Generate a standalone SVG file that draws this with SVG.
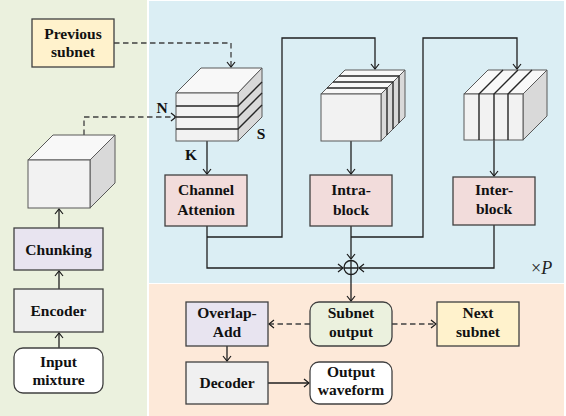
<svg xmlns="http://www.w3.org/2000/svg" width="566" height="416" viewBox="0 0 566 416">
<defs>
<marker id="arr" viewBox="-1 -5 7 10" refX="5" refY="0" markerWidth="7" markerHeight="10" markerUnits="userSpaceOnUse" orient="auto">
<path d="M0,-4 L5,0 L0,4" fill="none" stroke="#1a1a1a" stroke-width="1.2"/>
</marker>
<style>
.bx{stroke:#404040;stroke-width:1.3}
.t{font-family:"Liberation Serif","Times New Roman",serif;font-weight:bold;font-size:15.5px;fill:#111;text-anchor:middle}
.c{fill:none;stroke:#1f1f1f;stroke-width:1.3}
.d{fill:none;stroke:#404040;stroke-width:1.3;stroke-dasharray:5.5,3.5}
.fr{fill:#f2f2f2;stroke:#595959;stroke-width:1}
.tp{fill:#f8f8f8;stroke:#595959;stroke-width:1}
.sd{fill:#d9d9d9;stroke:#595959;stroke-width:1}
.sl{stroke:#262626;stroke-width:1.4;fill:none}
</style>
</defs>
<rect x="0" y="0" width="147" height="416" fill="#ebf1de"/>
<rect x="149" y="1" width="415" height="282" fill="#dbeef4"/>
<rect x="149" y="284" width="415" height="132" fill="#fde9d9"/>

<g id="connectors">
<path class="d" d="M114,43 H231 V67" marker-end="url(#arr)"/>
<path class="d" d="M84,135 V117 H176" marker-end="url(#arr)"/>
<path class="c" d="M59,228 V209" marker-end="url(#arr)"/>
<path class="c" d="M59,289 V271" marker-end="url(#arr)"/>
<path class="c" d="M59,348 V333" marker-end="url(#arr)"/>
<path class="c" d="M207,141 V174" marker-end="url(#arr)"/>
<path class="c" d="M207,237 H282 V38 H375 V69" marker-end="url(#arr)"/>
<path class="c" d="M351,141 V174" marker-end="url(#arr)"/>
<path class="c" d="M351,237 H423 V38 H517 V69" marker-end="url(#arr)"/>
<path class="c" d="M494,140 V176" marker-end="url(#arr)"/>
<path class="c" d="M207,226 V268 H343" marker-end="url(#arr)"/>
<path class="c" d="M494,225 V268 H359" marker-end="url(#arr)"/>
<path class="c" d="M351,226 V259" marker-end="url(#arr)"/>
<circle cx="351" cy="267.5" r="7" fill="none" stroke="#1f1f1f" stroke-width="1.3"/>
<path class="c" d="M344,268 H358 M351,260 V275"/>
<path class="c" d="M351,275 V301" marker-end="url(#arr)"/>
<path class="d" d="M310,324 H269" marker-end="url(#arr)"/>
<path class="d" d="M392,324 H436" marker-end="url(#arr)"/>
<path class="c" d="M227,346 V361" marker-end="url(#arr)"/>
<path class="c" d="M268,383 H309" marker-end="url(#arr)"/>
</g>

<g id="prev-subnet">
<rect class="bx" x="32" y="19" width="82" height="48" fill="#fff2cc"/>
<text class="t" x="73" y="39">Previous</text>
<text class="t" x="73" y="57">subnet</text>
</g>

<g id="left-cube">
<polygon class="tp" points="28,160 53,135 115,135 90,160"/>
<polygon class="sd" points="90,160 115,135 115,183 90,208"/>
<rect class="fr" x="28" y="160" width="62" height="48"/>
</g>

<g id="chunking">
<rect class="bx" x="14" y="228" width="89" height="42" fill="#e8e4f0"/>
<text class="t" x="58.5" y="255">Chunking</text>
</g>
<g id="encoder">
<rect class="bx" x="14" y="289" width="89" height="43" fill="#f0f0f0"/>
<text class="t" x="58.5" y="316">Encoder</text>
</g>
<g id="input-mixture">
<rect class="bx" x="14" y="348" width="89" height="45" rx="9" fill="#ffffff"/>
<text class="t" x="58.5" y="367">Input</text>
<text class="t" x="58.5" y="385">mixture</text>
</g>

<g id="channel-cube">
<polygon class="tp" points="176,93 201,68 262,68 238,93"/>
<polygon class="sd" points="238,93 262,68 262,117 238,141"/>
<rect class="fr" x="176" y="93" width="62" height="48"/>
<path class="sl" d="M176,106 H238 L262,82 M176,117 H238 L262,93 M176,129 H238 L262,105"/>
<text class="t" x="162" y="113">N</text>
<text class="t" x="261" y="139">S</text>
<text class="t" x="191" y="160">K</text>
</g>

<g id="intra-cube">
<polygon class="tp" points="321,94 345,70 405,70 381,94"/>
<polygon class="sd" points="381,94 405,70 405,117 381,141"/>
<rect class="fr" x="321" y="94" width="60" height="47"/>
<path class="sl" d="M327,88 H387 V135 M333,82 H393 V129 M339,76 H399 V123"/>
</g>

<g id="inter-cube">
<polygon class="tp" points="464,94 488,70 547,70 523,94"/>
<polygon class="sd" points="523,94 547,70 547,116 523,140"/>
<rect class="fr" x="464" y="94" width="59" height="46"/>
<path class="sl" d="M479,140 V94 L503,70 M494,140 V94 L518,70 M508,140 V94 L532,70"/>
</g>

<g id="channel-attention">
<rect class="bx" x="165" y="175" width="82" height="51" fill="#f2dcdb"/>
<text class="t" x="206" y="195">Channel</text>
<text class="t" x="206" y="215">Attenion</text>
</g>
<g id="intra-block">
<rect class="bx" x="310" y="175" width="82" height="51" fill="#f2dcdb"/>
<text class="t" x="351" y="195">Intra-</text>
<text class="t" x="351" y="215">block</text>
</g>
<g id="inter-block">
<rect class="bx" x="453" y="177" width="82" height="48" fill="#f2dcdb"/>
<text class="t" x="494" y="195">Inter-</text>
<text class="t" x="494" y="214">block</text>
</g>

<g id="times-p">
<text x="531" y="274" font-family="Liberation Serif,serif" font-size="18" fill="#222">×<tspan font-style="italic">P</tspan></text>
</g>

<g id="overlap-add">
<rect class="bx" x="186" y="302" width="82" height="44" fill="#e8e4f0"/>
<text class="t" x="227" y="318">Overlap-</text>
<text class="t" x="227" y="337">Add</text>
</g>
<g id="subnet-output">
<rect class="bx" x="310" y="302" width="82" height="44" rx="9" fill="#ebf1de"/>
<text class="t" x="351" y="318">Subnet</text>
<text class="t" x="351" y="337">output</text>
</g>
<g id="next-subnet">
<rect class="bx" x="437" y="302" width="82" height="44" fill="#fff2cc"/>
<text class="t" x="478" y="318">Next</text>
<text class="t" x="478" y="337">subnet</text>
</g>
<g id="decoder">
<rect class="bx" x="186" y="362" width="82" height="42" fill="#f0f0f0"/>
<text class="t" x="227" y="388">Decoder</text>
</g>
<g id="output-waveform">
<rect class="bx" x="310" y="362" width="82" height="42" rx="9" fill="#ffffff"/>
<text class="t" x="351" y="377">Output</text>
<text class="t" x="351" y="395">waveform</text>
</g>
</svg>
